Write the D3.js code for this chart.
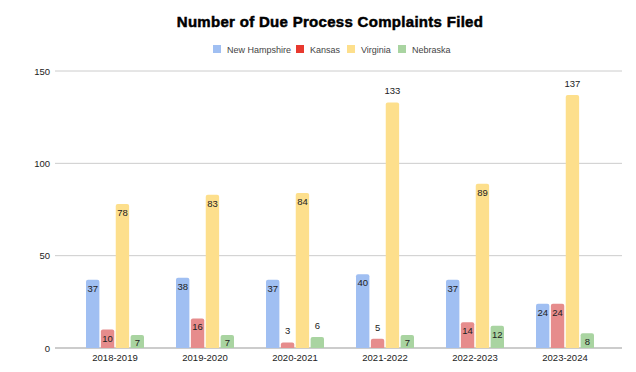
<!DOCTYPE html>
<html>
<head>
<meta charset="utf-8">
<script src="https://cdn.jsdelivr.net/npm/d3@7"></script>
<style>
  body { margin: 0; background: #fff; }
  svg { font-family: "Liberation Sans", Arial, sans-serif; }
</style>
</head>
<body>
<svg width="636" height="372"></svg>
<script>
// chart data
const years = ["2018-2019", "2019-2020", "2020-2021", "2021-2022", "2022-2023", "2023-2024"];
const states = ["New Hampshire", "Kansas", "Virginia", "Nebraska"];
const newHampshire = [37, 38, 37, 40, 37, 24];
const kansas = [10, 16, 3, 5, 14, 24];
const virginia = [78, 83, 84, 133, 89, 137];
const nebraska = [7, 7, 6, 7, 12, 8];
const yTicks = [0, 50, 100, 150];

const seriesValues = [newHampshire, kansas, virginia, nebraska];
const barColors = ["#a0bff2", "#e68c8c", "#fddf8c", "#a9d4a1"];
const legendColors = ["#a0bff2", "#e8392f", "#fddf8c", "#a9d4a1"];

const svg = d3.select("svg");

const x = d3.scaleBand().domain(years).range([70, 610]).padding(0);
const xInner = d3.scaleBand().domain(states).range([0, 58]).paddingInner(0.1);
const y = d3.scaleLinear().domain([0, 150]).range([348, 71]);

// title
svg.append("text")
    .attr("x", 330).attr("y", 27)
    .attr("text-anchor", "middle")
    .attr("font-weight", "bold")
    .attr("font-size", 15)
    .attr("fill", "#000")
    .attr("stroke", "#000")
    .attr("stroke-width", 0.5)
    .attr("letter-spacing", 0.3)
    .text("Number of Due Process Complaints Filed");

// legend
const legendX = [213, 296, 347, 398];
const legend = svg.append("g");
states.forEach((s, i) => {
    legend.append("rect")
        .attr("x", legendX[i]).attr("y", 45)
        .attr("width", 8).attr("height", 8)
        .attr("fill", legendColors[i]);
    legend.append("text")
        .attr("x", legendX[i] + 14).attr("y", 52.5)
        .attr("font-size", 9)
        .attr("fill", "#444")
        .text(s);
});

// gridlines + y labels
const grid = svg.append("g");
yTicks.forEach(t => {
    grid.append("line")
        .attr("x1", 55).attr("x2", 622)
        .attr("y1", y(t)).attr("y2", y(t))
        .attr("stroke", t === 0 ? "#999" : "#ccc")
        .attr("stroke-width", t === 0 ? 1.2 : 1);
    grid.append("text")
        .attr("x", 50).attr("y", y(t) + 3.5)
        .attr("text-anchor", "end")
        .attr("font-size", 9.5)
        .attr("fill", "#222")
        .text(t);
});

// x labels
svg.append("g").selectAll("text")
    .data(years)
    .enter()
    .append("text")
    .attr("x", d => x(d) + x.bandwidth() / 2)
    .attr("y", 361)
    .attr("text-anchor", "middle")
    .attr("font-size", 9.5)
    .attr("fill", "#222")
    .text(d => d);

// bars
const barData = [];
years.forEach((yr, i) => {
    states.forEach((s, j) => {
        barData.push({ year: yr, state: s, si: j, value: seriesValues[j][i] });
    });
});

const groupOffset = (x.bandwidth() - 58) / 2;
const bw = xInner.bandwidth();

function barPath(d) {
    const x0 = x(d.year) + groupOffset + xInner(d.state);
    const top = y(d.value), bot = y(0);
    const r = Math.min(2, (bot - top) / 2);
    return `M${x0},${bot}V${top + r}Q${x0},${top} ${x0 + r},${top}H${x0 + bw - r}Q${x0 + bw},${top} ${x0 + bw},${top + r}V${bot}Z`;
}

svg.append("g").selectAll("path")
    .data(barData)
    .enter()
    .append("path")
    .attr("d", barPath)
    .attr("fill", d => barColors[d.si]);

// value labels: inside the top of the bar, above it when the bar is short or very tall
svg.append("g").selectAll("text")
    .data(barData)
    .enter()
    .append("text")
    .attr("x", d => x(d.year) + groupOffset + xInner(d.state) + bw / 2)
    .attr("y", d => {
        const h = y(0) - y(d.value);
        if (d.value > 120) return y(d.value) - 8;
        if (h >= 18) return y(d.value) + 12;
        if (h >= 12) return y(d.value) + h / 2 + 4;
        return y(d.value) - 8;
    })
    .attr("text-anchor", "middle")
    .attr("font-size", 9.5)
    .attr("fill", "#222")
    .text(d => d.value);
</script>
</body>
</html>
